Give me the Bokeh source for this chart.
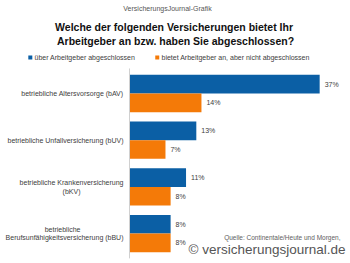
from bokeh.plotting import figure
from bokeh.models import Range1d, Label, ColumnDataSource
from bokeh.core.properties import value
from bokeh.embed import file_html
from bokeh.resources import INLINE

# Insurance types (y categories) and their shares in percent
categories = [
    "betriebliche Altersvorsorge (bAV)",
    "betriebliche Unfallversicherung (bUV)",
    "betriebliche Krankenversicherung\n(bKV)",
    "betriebliche\nBerufsunfähigkeitsversicherung (bBU)",
]
concluded = [37, 13, 11, 8]        # über Arbeitgeber abgeschlossen
offered_only = [14, 7, 8, 8]       # bietet Arbeitgeber an, aber nicht abgeschlossen

series_names = ["über Arbeitgeber abgeschlossen",
                "bietet Arbeitgeber an, aber nicht abgeschlossen"]
BLUE = "#0b5fa5"
ORANGE = "#f47a08"
TXT = "#404040"
FONT = "Liberation Sans"

W, H = 350, 263
p = figure(width=W, height=H, output_backend="svg", toolbar_location=None,
           x_range=Range1d(-25.1, 43.0), y_range=Range1d(3.64, -1.99),
           min_border=0, min_border_left=0, min_border_right=0,
           min_border_top=0, min_border_bottom=0)
p.xaxis.visible = False
p.yaxis.visible = False
p.grid.visible = False
p.outline_line_color = None
p.background_fill_color = "white"

idx = list(range(len(categories)))
bar_h = 0.4

src_a = ColumnDataSource(dict(y=[i - bar_h / 2 for i in idx], v=concluded,
                              lbl=[f"{v}%" for v in concluded]))
src_b = ColumnDataSource(dict(y=[i + bar_h / 2 for i in idx], v=offered_only,
                              lbl=[f"{v}%" for v in offered_only]))

p.hbar(y="y", left=0, right="v", height=bar_h, source=src_a,
       fill_color=BLUE, line_color=None)
p.hbar(y="y", left=0, right="v", height=bar_h, source=src_b,
       fill_color=ORANGE, line_color=None)

# value labels next to bar ends
for src in (src_a, src_b):
    p.text(x="v", y="y", text="lbl", source=src, x_offset=5,
           text_font=value(FONT), text_font_size="7px", text_color=TXT,
           text_align="left", text_baseline="middle")

# vertical category axis line
p.segment(x0=0, y0=-0.535, x1=0, y1=3.53, line_color="#d0d0d0", line_width=1)

# category labels; lines of two-line labels are set centred under each other
line_ends = {  # pixel offset of each line's right end from the axis
    2: [-6, -49],
    3: [-49, -6],
}
for i in idx:
    lines = categories[i].split("\n")
    ends = line_ends.get(i, [-6])
    n = len(lines)
    for k, line in enumerate(lines):
        p.text(x=[0], y=[i], text=[line], x_offset=ends[k],
               y_offset=(k - (n - 1) / 2) * 8.5,
               text_font=value(FONT), text_font_size="7px", text_color=TXT,
               text_align="right", text_baseline="middle")

# header texts
p.add_layout(Label(x=167, y=H - 8, x_units="screen", y_units="screen",
                   text="VersicherungsJournal-Grafik", text_font=FONT,
                   text_font_size="7px", text_color="#555555",
                   text_align="center", text_baseline="middle"))
p.add_layout(Label(x=175, y=H - 26, x_units="screen", y_units="screen",
                   text="Welche der folgenden Versicherungen  bietet Ihr",
                   text_font=FONT, text_font_size="10.5px", text_font_style="bold",
                   text_color="#111111", text_align="center", text_baseline="middle"))
p.add_layout(Label(x=175, y=H - 40, x_units="screen", y_units="screen",
                   text="Arbeitgeber an bzw. haben Sie abgeschlossen?",
                   text_font=FONT, text_font_size="10.5px", text_font_style="bold",
                   text_color="#111111", text_align="center", text_baseline="middle"))

# legend
p.scatter(x=[-19.3, 5.4], y=[-0.77, -0.77], marker="square",
          size=4, fill_color=[BLUE, ORANGE], line_color=None)
p.add_layout(Label(x=34, y=H - 57, x_units="screen", y_units="screen",
                   text=series_names[0], text_font=FONT, text_font_size="7px",
                   text_color=TXT, text_baseline="middle"))
p.add_layout(Label(x=161, y=H - 57, x_units="screen", y_units="screen",
                   text=series_names[1], text_font=FONT, text_font_size="7px",
                   text_color=TXT, text_baseline="middle"))

# source note
p.add_layout(Label(x=340, y=H - 237, x_units="screen", y_units="screen",
                   text="Quelle: Continentale/Heute und Morgen,", text_font=FONT,
                   text_font_size="6.5px", text_color="#606060",
                   text_align="right", text_baseline="middle"))
# watermark: white halo behind gray text
mark = "© versicherungsjournal.de"
for dx, dy in [(-1, 0), (1, 0), (0, -1), (0, 1)]:
    p.add_layout(Label(x=345 + dx, y=H - 249 + dy, x_units="screen", y_units="screen",
                       text=mark, text_font=FONT, text_font_size="13.5px",
                       text_color="white", text_align="right", text_baseline="middle"))
p.add_layout(Label(x=345, y=H - 249, x_units="screen", y_units="screen",
                   text=mark, text_font=FONT, text_font_size="13.5px",
                   text_color="#555555", text_align="right", text_baseline="middle"))

open("out.html", "w").write(file_html(p, INLINE))
